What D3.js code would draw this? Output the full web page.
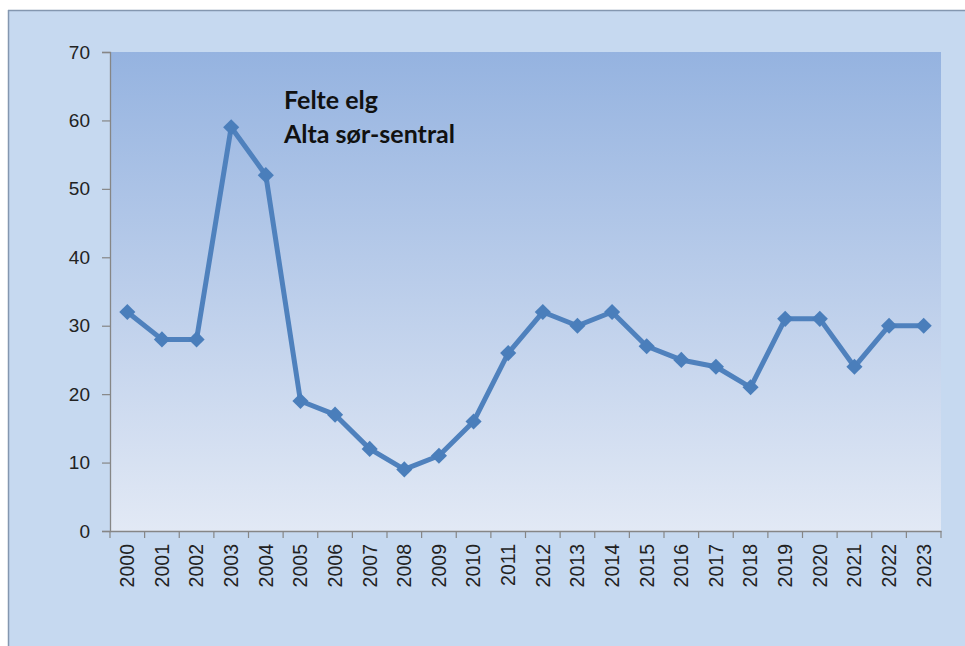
<!DOCTYPE html>
<html><head><meta charset="utf-8">
<script src="https://cdn.jsdelivr.net/npm/d3@7"></script>
<style>html,body{margin:0;padding:0;background:#fff;}svg{display:block;}</style>
</head><body>
<script>
const years = ["2000","2001","2002","2003","2004","2005","2006","2007","2008","2009","2010","2011","2012","2013","2014","2015","2016","2017","2018","2019","2020","2021","2022","2023"];
const felteElg = [32,28,28,59,52,19,17,12,9,11,16,26,32,30,32,27,25,24,21,31,31,24,30,30];
const yTicks = [0,10,20,30,40,50,60,70];
const titleLines = ["Felte elg","Alta sør-sentral"];

const W = 965, H = 646;
const svg = d3.select("body").append("svg").attr("width", W).attr("height", H);
const defs = svg.append("defs");
const g1 = defs.append("linearGradient").attr("id","plotbg").attr("x1",0).attr("y1",0).attr("x2",0).attr("y2",1);
g1.append("stop").attr("offset","0%").attr("stop-color","#95b3e0");
g1.append("stop").attr("offset","100%").attr("stop-color","#e2e9f5");

// chart area
svg.append("rect").attr("x",8).attr("y",10).attr("width",W-8).attr("height",H-10).attr("fill","#c6d9f0");
svg.append("line").attr("x1",8.5).attr("x2",8.5).attr("y1",10).attr("y2",H).attr("stroke","#8497b0").attr("stroke-width",1.5);
svg.append("line").attr("x1",8).attr("x2",W).attr("y1",10.5).attr("y2",10.5).attr("stroke","#8497b0").attr("stroke-width",1.5);

const L = 110, R = 941, T = 52, B = 531;
const x = d3.scaleBand().domain(years).range([L, R]).padding(0);
const y = d3.scaleLinear().domain([0,70]).range([B, T]);

svg.append("rect").attr("x",L).attr("y",T).attr("width",R-L).attr("height",B-T).attr("fill","url(#plotbg)");

const fontAx = "'Liberation Sans', Arial, sans-serif";
// y axis
const yAxis = svg.append("g").attr("transform",`translate(${L},0)`)
  .call(d3.axisLeft(y).tickValues(yTicks).tickSize(8).tickPadding(12));
yAxis.select(".domain").attr("stroke","#868686").attr("stroke-width",1.3);
yAxis.selectAll(".tick line").attr("stroke","#868686").attr("stroke-width",1.2);
yAxis.selectAll("text").attr("font-family",fontAx).attr("font-size",19).attr("fill","#222");

// x axis
const xAxis = svg.append("g").attr("transform",`translate(0,${B})`)
  .call(d3.axisBottom(x).tickSize(0).tickPadding(0));
xAxis.select(".domain").attr("stroke","#868686").attr("stroke-width",1.3);
xAxis.selectAll("text")
  .attr("font-family",fontAx).attr("font-size",19.5).attr("fill","#222")
  .attr("transform","rotate(-90)").attr("text-anchor","end").attr("x",-13).attr("y",0).attr("dy","0.35em");
// boundary ticks
const bounds = years.map(d => x(d)).concat([x(years[years.length-1]) + x.bandwidth()]);
xAxis.selectAll(".btick").data(bounds).enter().append("line")
  .attr("x1",d=>d).attr("x2",d=>d).attr("y1",0).attr("y2",7).attr("stroke","#868686").attr("stroke-width",1.2);

// line
const cx = d => x(d) + x.bandwidth()/2;
const line = d3.line().x((d,i)=>cx(years[i])).y(d=>y(d));
svg.append("path").datum(felteElg).attr("d",line).attr("fill","none")
  .attr("stroke","#4f81bd").attr("stroke-width",5).attr("stroke-linejoin","round");
svg.selectAll(".mk").data(felteElg).enter().append("path")
  .attr("d", d3.symbol().type(d3.symbolSquare).size(130))
  .attr("transform",(d,i)=>`translate(${cx(years[i])},${y(d)}) rotate(45)`)
  .attr("fill","#4a7ebb");

// title
svg.append("g").selectAll("text").data(titleLines).enter().append("text")
  .attr("x",284).attr("y",(d,i)=>109 + i*34)
  .attr("font-family","Lato, 'Open Sans', sans-serif").attr("font-weight","bold").attr("font-size",25).attr("fill","#111")
  .text(d=>d);
</script>
</body></html>
